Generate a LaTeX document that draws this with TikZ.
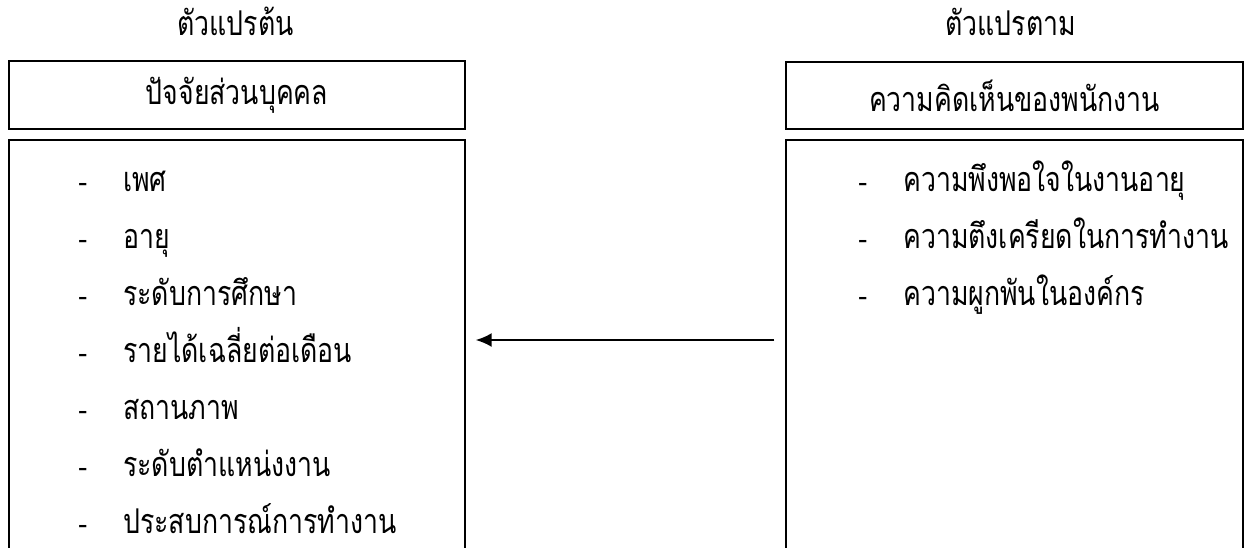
\documentclass[tikz,border=0pt]{standalone}
\usepackage{fontspec}
\usepackage{graphicx}
\setmainfont[Script=Thai]{Loma}
\usetikzlibrary{arrows.meta}
\newcommand{\tallthai}[1]{\scalebox{1}[1.28]{#1}}
\begin{document}
\begin{tikzpicture}[x=0.75pt,y=-0.75pt,
  box/.style={draw, line width=1.1pt, rectangle, inner sep=0pt},
  thaitext/.style={font=\fontsize{20}{24}\selectfont},
  lbl/.style={thaitext, inner sep=0pt, anchor=base west},
  arr/.style={-{Latex[length=12pt,width=10.5pt]}, line width=1.4pt}]
\useasboundingbox (0,0) rectangle (1245,547);
\clip (0,0) rectangle (1245,547);
% top labels
\node[lbl] (tin) at (177,35) {\tallthai{ตัวแปรต้น}};
\node[lbl] (tout) at (945,35) {\tallthai{ตัวแปรตาม}};
% header boxes
\node[box, thaitext, minimum width=342pt, minimum height=51pt] (lhead) at (237,95) {\tallthai{ปัจจัยส่วนบุคคล}};
\node[box, thaitext, minimum width=342.75pt, minimum height=50.25pt] (rhead) at (1014.5,95.5) {\tallthai{ความคิดเห็นของพนักงาน}};
% body boxes (open below the picture edge)
\node[box, minimum width=342pt, minimum height=315pt] (lbody) at (237,350) {};
\node[box, minimum width=342.75pt, minimum height=315pt] (rbody) at (1014.5,350) {};
% left items
\node[lbl] (l1) at (78,191) {\makebox[33.75pt][l]{-}\tallthai{เพศ}};
\node[lbl] (l2) at (78,248) {\makebox[33.75pt][l]{-}\tallthai{อายุ}};
\node[lbl] (l3) at (78,305) {\makebox[33.75pt][l]{-}\tallthai{ระดับการศึกษา}};
\node[lbl] (l4) at (78,362) {\makebox[33.75pt][l]{-}\tallthai{รายได้เฉลี่ยต่อเดือน}};
\node[lbl] (l5) at (78,419) {\makebox[33.75pt][l]{-}\tallthai{สถานภาพ}};
\node[lbl] (l6) at (78,476) {\makebox[33.75pt][l]{-}\tallthai{ระดับตำแหน่งงาน}};
\node[lbl] (l7) at (78,533) {\makebox[33.75pt][l]{-}\tallthai{ประสบการณ์การทำงาน}};
% right items
\node[lbl] (r1) at (858,191) {\makebox[33.75pt][l]{-}\tallthai{ความพึงพอใจในงานอายุ}};
\node[lbl] (r2) at (858,248) {\makebox[33.75pt][l]{-}\tallthai{ความตึงเครียดในการทำงาน}};
\node[lbl] (r3) at (858,305) {\makebox[33.75pt][l]{-}\tallthai{ความผูกพันในองค์กร}};
% arrow
\draw[arr, shorten <=8.25pt, shorten >=7.5pt] ([yshift=7.5pt]rbody.west) -- ([yshift=7.5pt]lbody.east);
\end{tikzpicture}
\end{document}
